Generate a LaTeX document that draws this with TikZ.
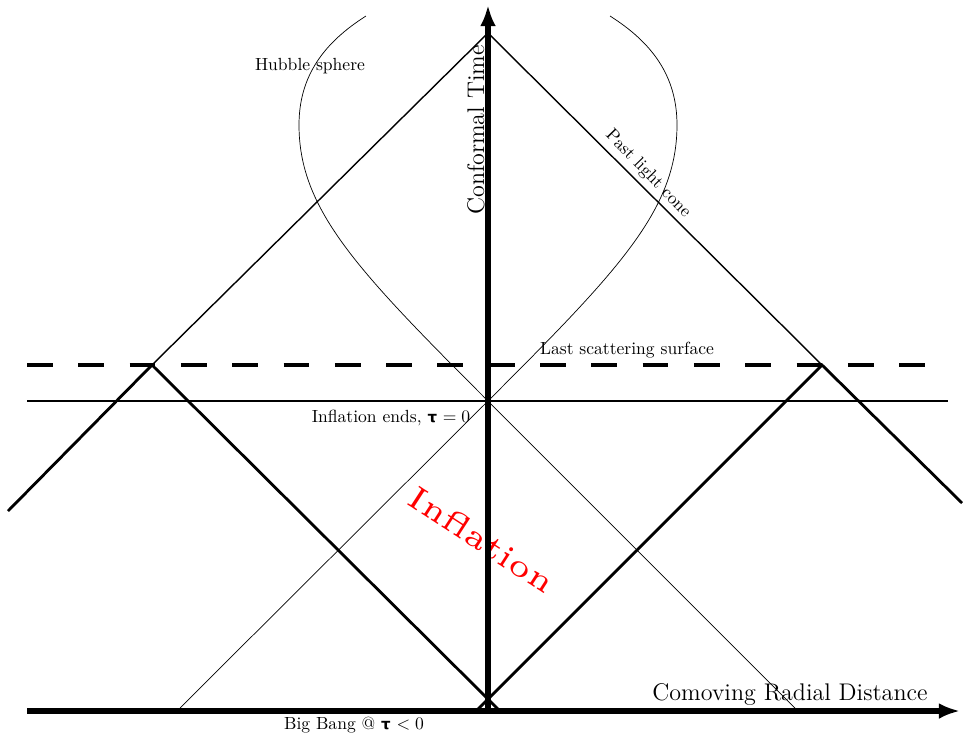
\documentclass[tikz,border=0pt]{standalone}
\usepackage{fontspec}
\newfontfamily\taufont{DejaVu Sans}[Scale=0.85]
\usetikzlibrary{arrows.meta, calc}

\newcommand{\tauglyph}{{\taufont\bfseries τ}}

\begin{document}
\begin{tikzpicture}[
      x=0.02cm, y=-0.02cm,
      axis/.style={line width=3pt, -{Latex[length=12pt, width=9pt]}},
      cone/.style={line width=0.8pt},
      inflcone/.style={line width=1.6pt},
      ray/.style={line width=0.4pt},
      epoch/.style={line width=1.6pt},
      lss/.style={line width=2pt, dash pattern=on 14.7pt off 14.5pt},
      lbl/.style={inner sep=0pt, font=\normalsize},
      biglbl/.style={inner sep=0pt, font=\fontsize{13.7}{16}\selectfont}
    ]
    \useasboundingbox (0,0) rectangle (964,738);

    % points of the diagram
    \coordinate (origin) at (488,711);
    \coordinate (xstart) at (27,711);
    \coordinate (xend) at (960,711);
    \coordinate (yend) at (488,5);
    \coordinate (now) at (488,33);
    \coordinate (endinfl) at (488,401);
    \coordinate (lssL) at (152,365);
    \coordinate (lssR) at (822,365);
    \coordinate (outL) at (8,511);
    \coordinate (outR) at (962,503);
    \coordinate (footL) at (500,711);
    \coordinate (footR) at (476,711);
    \coordinate (rayL) at (180,708);
    \coordinate (rayR) at (795,708);

    % horizontal lines
    \draw[epoch] (27,401) coordinate (ieL) -- (948,401) coordinate (ieR);
    \draw[lss] (27,365) coordinate (lsL) -- (935,365) coordinate (lsR);

    % past light cone
    \draw[cone] (lssL) -- (now) -- (lssR);
    \draw[inflcone] (outL) -- (lssL) -- (footL);
    \draw[inflcone] (outR) -- (lssR) -- (footR);

    % rays through the end of inflation
    \draw[ray] (rayL) -- (endinfl) -- (rayR);

    % hubble sphere
    \draw[ray] (endinfl) .. controls (358,271) and (299,210) .. (299,125)
               .. controls (299,75) and (325,42) .. (366,16);
    \draw[ray] (endinfl) .. controls (618,271) and (677,210) .. (677,125)
               .. controls (677,75) and (651,42) .. (610,16);

    % labels
    \node[lbl] (hubblelbl) at (310,66) {Hubble sphere};
    \node[lbl, rotate=-46] (conelbl) at (648,174) {Past light cone};
    \node[lbl] (lsslbl) at (627,350) {Last scattering surface};
    \node[lbl] (endlbl) at (391,418) {Inflation ends, \tauglyph{} $=0$};
    \node[lbl] (bblbl) at (354,725) {Big Bang @ \tauglyph{} $<0$};
    \node[red, rotate=-33, scale=3.7, inner sep=0pt] (infllbl) at (482,540) {\tiny Inf{}lation};
    \node[biglbl] (xlbl) at (790,694) {Comoving Radial Distance};
    \node[biglbl, rotate=90] (ylbl) at (476,130) {Conformal Time};

    % axes
    \draw[axis] (xstart) -- (xend);
    \draw[axis] (origin) -- (yend);
\end{tikzpicture}
\end{document}
